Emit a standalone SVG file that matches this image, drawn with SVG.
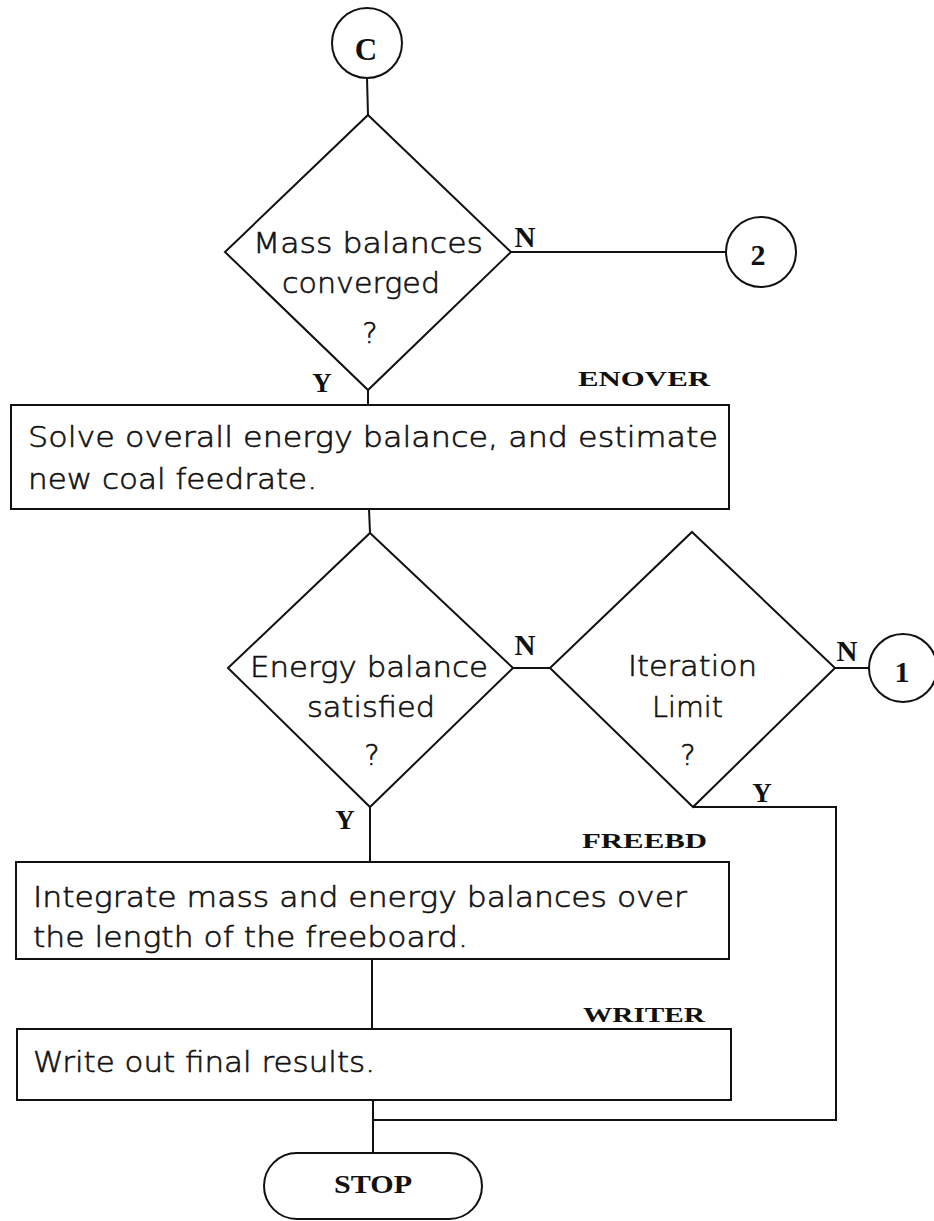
<svg xmlns="http://www.w3.org/2000/svg" width="934" height="1221" viewBox="0 0 934 1221">
  <style>
    .shape { fill: none; stroke: #111; stroke-width: 2; }
    .wire { fill: none; stroke: #111; stroke-width: 2; }
    .body { font-family: "DejaVu Sans", "Liberation Sans", sans-serif; font-size: 29px; font-weight: 200; fill: #111; stroke: #111; stroke-width: 0.6; }
    .tag { font-family: "Liberation Serif", "DejaVu Serif", serif; font-weight: bold; fill: #111; }
  </style>

  <!-- connectors -->
  <g id="connectors">
    <line class="wire" x1="367" y1="78" x2="368" y2="115"/>
    <line class="wire" x1="511" y1="252" x2="726" y2="252"/>
    <line class="wire" x1="368" y1="390" x2="368" y2="405"/>
    <line class="wire" x1="369" y1="509" x2="370" y2="533"/>
    <line class="wire" x1="513" y1="668" x2="550" y2="668"/>
    <line class="wire" x1="835" y1="668" x2="869" y2="668"/>
    <line class="wire" x1="370" y1="807" x2="370" y2="862"/>
    <line class="wire" x1="372" y1="959" x2="372" y2="1029"/>
    <line class="wire" x1="373" y1="1100" x2="373" y2="1153"/>
    <polyline class="wire" points="693,807 836,807 836,1120 373,1120"/>
    <text class="tag" x="525" y="247" font-size="29" text-anchor="middle">N</text>
    <text class="tag" x="322" y="392" font-size="27" text-anchor="middle">Y</text>
    <text class="tag" x="525" y="655" font-size="29" text-anchor="middle">N</text>
    <text class="tag" x="345" y="829" font-size="27" text-anchor="middle">Y</text>
    <text class="tag" x="847" y="661" font-size="29" text-anchor="middle">N</text>
    <text class="tag" x="762" y="802" font-size="27" text-anchor="middle">Y</text>
  </g>

  <!-- entry connector C -->
  <g id="start-c">
    <circle class="shape" cx="367" cy="43" r="35"/>
    <text class="tag" x="366" y="60" font-size="31" text-anchor="middle">C</text>
  </g>

  <!-- mass balance test -->
  <g id="mass-check">
    <polygon class="shape" points="368,115 511,252 368,390 225,252"/>
    <text class="body" x="253" y="253" textLength="230" lengthAdjust="spacingAndGlyphs">Mass balances</text>
    <text class="body" x="282" y="293" textLength="158" lengthAdjust="spacingAndGlyphs">converged</text>
    <text class="body" x="370" y="343" text-anchor="middle">?</text>
  </g>

  <!-- off-page connector 2 -->
  <g id="goto-2">
    <circle class="shape" cx="761" cy="252" r="35"/>
    <text class="tag" x="758" y="265" font-size="30" text-anchor="middle">2</text>
  </g>

  <!-- ENOVER -->
  <g id="enover">
    <text class="tag" x="578" y="386" font-size="21" textLength="132" lengthAdjust="spacingAndGlyphs">ENOVER</text>
    <rect class="shape" x="11" y="405" width="718" height="104"/>
    <text class="body" x="28" y="447" textLength="690" lengthAdjust="spacingAndGlyphs">Solve overall energy balance, and estimate</text>
    <text class="body" x="28" y="489" textLength="289" lengthAdjust="spacingAndGlyphs">new coal feedrate.</text>
  </g>

  <!-- energy balance test -->
  <g id="energy-check">
    <polygon class="shape" points="370,533 513,668 370,807 228,668"/>
    <text class="body" x="250" y="677" textLength="238" lengthAdjust="spacingAndGlyphs">Energy balance</text>
    <text class="body" x="307" y="717" textLength="128" lengthAdjust="spacingAndGlyphs">satisfied</text>
    <text class="body" x="372" y="765" text-anchor="middle">?</text>
  </g>

  <!-- iteration limit test -->
  <g id="iteration-check">
    <polygon class="shape" points="692,532 835,668 693,807 550,668"/>
    <text class="body" x="628" y="676" textLength="129" lengthAdjust="spacingAndGlyphs">Iteration</text>
    <text class="body" x="652" y="717" textLength="71" lengthAdjust="spacingAndGlyphs">Limit</text>
    <text class="body" x="688" y="765" text-anchor="middle">?</text>
  </g>

  <!-- off-page connector 1 -->
  <g id="goto-1">
    <circle class="shape" cx="903" cy="668" r="34"/>
    <text class="tag" x="902" y="682" font-size="30" text-anchor="middle">1</text>
  </g>

  <!-- FREEBD -->
  <g id="freebd">
    <text class="tag" x="582" y="848" font-size="21" textLength="125" lengthAdjust="spacingAndGlyphs">FREEBD</text>
    <rect class="shape" x="16" y="862" width="713" height="97"/>
    <text class="body" x="33" y="907" textLength="654" lengthAdjust="spacingAndGlyphs">Integrate mass and energy balances over</text>
    <text class="body" x="33" y="947" textLength="435" lengthAdjust="spacingAndGlyphs">the length of the freeboard.</text>
  </g>

  <!-- WRITER -->
  <g id="writer">
    <text class="tag" x="583" y="1022" font-size="21" textLength="122" lengthAdjust="spacingAndGlyphs">WRITER</text>
    <rect class="shape" x="17" y="1029" width="714" height="71"/>
    <text class="body" x="33" y="1072" textLength="342" lengthAdjust="spacingAndGlyphs">Write out final results.</text>
  </g>

  <!-- terminal -->
  <g id="stop">
    <rect class="shape" x="264" y="1153" width="218" height="66" rx="33" ry="33"/>
    <text class="tag" x="334" y="1193" font-size="26" textLength="78" lengthAdjust="spacingAndGlyphs">STOP</text>
  </g>
</svg>
